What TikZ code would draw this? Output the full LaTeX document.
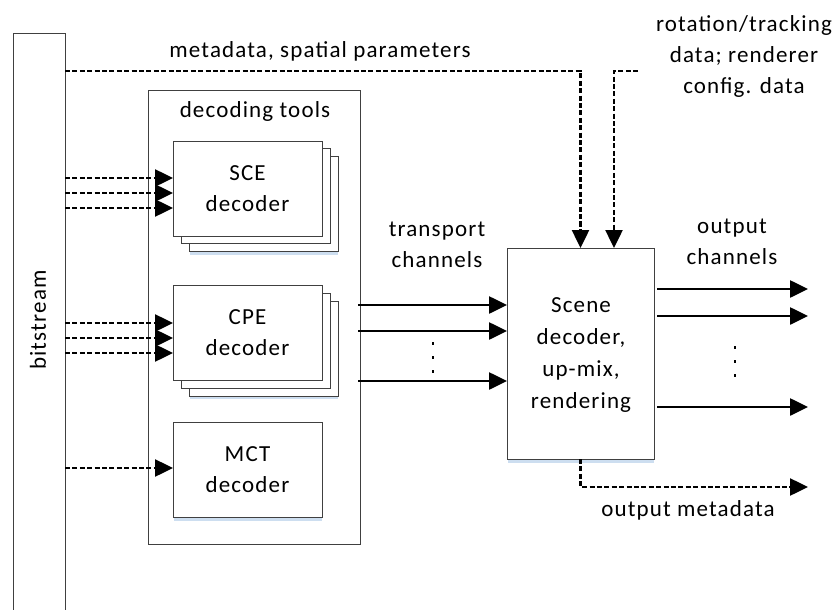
\documentclass[tikz,border=0pt]{standalone}
\usepackage{fontspec}
\setmainfont{Carlito}[LetterSpace=5]
\usetikzlibrary{arrows.meta}
\definecolor{shadeblue}{RGB}{205,222,240}
\begin{document}
\begin{tikzpicture}[x=1pt,y=-1pt,
  box/.style={draw=black!75, line width=0.9pt, fill=white, inner sep=0pt, outer sep=0pt, anchor=north west},
  shade/.style={draw=shadeblue, line width=3pt},
  lbl/.style={font=\fontsize{23}{31}\selectfont, align=center, inner sep=0pt},
  dat/.style={line width=2.5pt, dash pattern=on 5pt off 2.4pt},
  sig/.style={line width=2.6pt},
  tip/.style={-{Triangle[length=18pt,width=17pt]}}
]
\useasboundingbox (0,0) rectangle (838,610);

% bitstream column
\node[box, minimum width=52pt, minimum height=600pt] (bs) at (13,33) {};
\node[lbl, rotate=90] (bslbl) at (38,320) {bitstream};

% decoding tools container
\node[box, minimum width=212pt, minimum height=454pt] (dt) at (148,90) {};
\node[lbl] (dtlbl) at (255,111) {decoding tools};

% SCE stack
\draw[shade] (190,253) -- (338,253);
\node[box, minimum width=149pt, minimum height=95pt] (sce3) at (189,156) {};
\node[box, minimum width=149pt, minimum height=95pt] (sce2) at (181,148) {};
\node[box, minimum width=149pt, minimum height=95pt] (sce1) at (173,141) {};
\node[lbl] (scelbl) at (sce1.center) {SCE\\decoder};

% CPE stack
\draw[shade] (190,397) -- (338,397);
\node[box, minimum width=149pt, minimum height=95pt] (cpe3) at (189,301) {};
\node[box, minimum width=149pt, minimum height=95pt] (cpe2) at (181,293) {};
\node[box, minimum width=149pt, minimum height=95pt] (cpe1) at (173,285) {};
\node[lbl] (cpelbl) at (cpe1.center) {CPE\\decoder};

% MCT
\draw[shade] (174,519) -- (322,519);
\node[box, minimum width=149pt, minimum height=95pt] (mct) at (173,422) {};
\node[lbl] (mctlbl) at (mct.center) {MCT\\decoder};

% Scene decoder
\draw[shade] (508,461) -- (654,461);
\node[box, minimum width=147pt, minimum height=211pt] (scene) at (507,248) {};
\node[lbl, font=\fontsize{23}{32}\selectfont] (scenelbl) at (581,355) {Scene\\decoder,\\up-mix,\\rendering};

% labels
\node[lbl] (mdlbl) at (320,51) {metadata, spatial parameters};
\node[lbl] (rtlbl) at (744,56) {rotation/tracking\\data; renderer\\config. data};
\node[lbl] (tclbl) at (437,245) {transport\\channels};
\node[lbl] (oclbl) at (732,242) {output\\channels};
\node[lbl] (omlbl) at (688,510) {output metadata};

% bitstream inputs
\foreach \y in {178,193,208} \draw[dat,tip] (bs.east |- 0,\y) -- (sce1.west |- 0,\y);
\foreach \y in {323,338,353} \draw[dat,tip] (bs.east |- 0,\y) -- (cpe1.west |- 0,\y);
\draw[dat,tip] (bs.east |- 0,468) -- (mct.west |- 0,468);

% metadata & control to scene decoder
\draw[dat,tip] (bs.east |- 0,71) -| (scene.north);
\coordinate (rt) at (638,71);
\draw[dat,tip] (rt) -| (scene.north -| 614,0);

% transport channels
\foreach \y in {305,331,381} \draw[sig,tip] (358,\y) -- (scene.west |- 0,\y);
\foreach \y in {343,357,371} \fill (432.3,\y-1.5) rectangle (433.8,\y+1.5);

% output channels
\foreach \y [count=\i] in {289,316,407} {
  \coordinate (o\i) at (808,\y);
  \draw[sig,tip] (657,\y) -- (o\i);
}
\foreach \y in {347,361,375} \fill (734.3,\y-1.5) rectangle (735.8,\y+1.5);

% output metadata
\coordinate (om) at (808,487);
\draw[dat,tip] (scene.south) |- (om);
\end{tikzpicture}
\end{document}
